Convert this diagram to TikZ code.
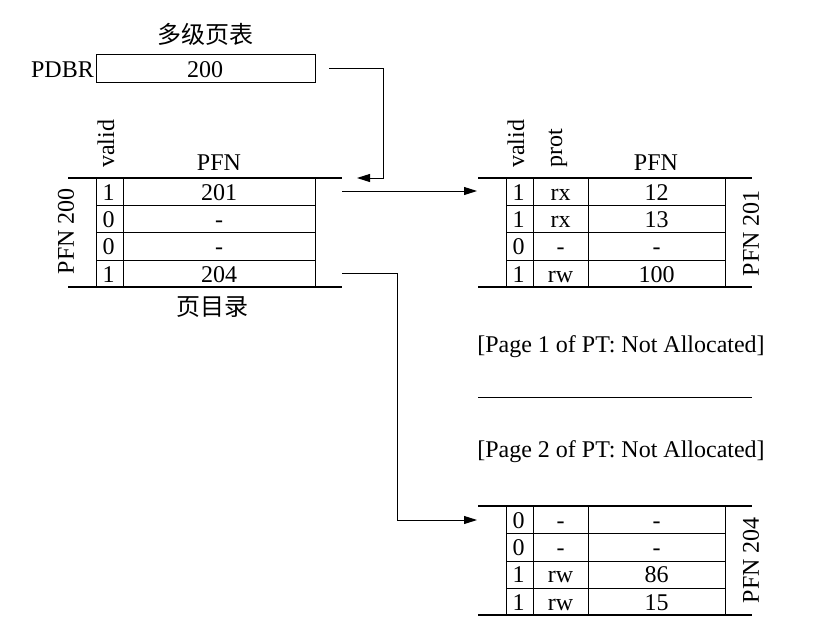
\documentclass[tikz,border=0pt]{standalone}
\usepackage{fontspec}
\setmainfont{Liberation Serif}
\newfontfamily\cjk{Noto Sans CJK SC}
\usetikzlibrary{arrows.meta}
\begin{document}
\begin{tikzpicture}[x=1pt,y=-1pt,
  lbl/.style={font=\fontsize{24}{24}\selectfont, inner sep=0pt},
  cjklbl/.style={font=\fontsize{24}{24}\selectfont\cjk, inner sep=0pt},
  cell/.style={lbl, anchor=base},
  thickrule/.style={line width=1.7pt},
  thinrule/.style={line width=0.9pt},
  conn/.style={line width=0.9pt},
  arr/.style={line width=0.9pt,-{Triangle[length=13pt,width=8pt]}}]
\useasboundingbox (0,0) rectangle (837,629);

% ---------- title and PDBR ----------
\node[cjklbl] (title) at (205,34) {多级页表};
\node[draw, thinrule, minimum width=219pt, minimum height=28pt, inner sep=0pt] (pdbr) at (205.5,68) {};
\node[lbl, anchor=base] (pdbrval) at (205,77) {200};
\node[lbl, anchor=base east] (pdbrlbl) at (94,77) {PDBR};

% ---------- page directory (PFN 200) ----------
\draw[thickrule] (68,178) -- (342,178);
\draw[thickrule] (68,287) -- (342,287);
\foreach \x in {96,123,315} \draw[thinrule] (\x,178) -- (\x,287);
\foreach \y in {205,232.5,260} \draw[thinrule] (96,\y) -- (315,\y);
\node[lbl, rotate=90, anchor=west] (dvalid) at (106,168) {valid};
\node[lbl, anchor=base] (dpfn) at (219,170) {PFN};
\node[lbl, rotate=90] (dname) at (66,231) {PFN 200};
\node[cjklbl] (dtitle) at (212,307) {页目录};
\foreach \v/\p [count=\i] in {1/201,0/-,0/-,1/204} {
  \pgfmathsetmacro{\yb}{178+27.25*\i-5}
  \node[cell] (dv\i) at (108.5,\yb) {\v};
  \node[cell] (dp\i) at (219,\yb) {\p};
}

% ---------- page of PT (PFN 201) ----------
\draw[thickrule] (478,178) -- (752,178);
\draw[thickrule] (478,287) -- (752,287);
\foreach \x in {506,533,588,725} \draw[thinrule] (\x,178) -- (\x,287);
\foreach \y in {205,232.5,260} \draw[thinrule] (506,\y) -- (725,\y);
\node[lbl, rotate=90, anchor=west] (avalid) at (516,168) {valid};
\node[lbl, rotate=90, anchor=west] (aprot) at (558,168) {prot};
\node[lbl, anchor=base] (apfn) at (656,170) {PFN};
\node[lbl, rotate=90] (aname) at (751,233) {PFN 201};
\foreach \v/\r/\p [count=\i] in {1/rx/12,1/rx/13,0/-/-,1/rw/100} {
  \pgfmathsetmacro{\yb}{178+27.25*\i-5}
  \node[cell] (av\i) at (518.5,\yb) {\v};
  \node[cell] (ar\i) at (560.5,\yb) {\r};
  \node[cell] (ap\i) at (656.5,\yb) {\p};
}

% ---------- not allocated ----------
\node[lbl, anchor=base] (na1) at (621,352) {[Page 1 of PT: Not Allocated]};
\draw[thinrule] (478,397) -- (752,397);
\node[lbl, anchor=base] (na2) at (621,457) {[Page 2 of PT: Not Allocated]};

% ---------- page of PT (PFN 204) ----------
\draw[thickrule] (478,506) -- (752,506);
\draw[thickrule] (478,615) -- (752,615);
\foreach \x in {506,533,588,725} \draw[thinrule] (\x,506) -- (\x,615);
\foreach \y in {533,561,588} \draw[thinrule] (506,\y) -- (725,\y);
\node[lbl, rotate=90] (bname) at (751,560) {PFN 204};
\foreach \v/\r/\p [count=\i] in {0/-/-,0/-/-,1/rw/86,1/rw/15} {
  \pgfmathsetmacro{\yb}{506+27.25*\i-5}
  \node[cell] (bv\i) at (518.5,\yb) {\v};
  \node[cell] (br\i) at (560.5,\yb) {\r};
  \node[cell] (bp\i) at (656.5,\yb) {\p};
}

% ---------- connectors ----------
\coordinate (c1s) at (329,68);
\coordinate (c1k) at (383,178);
\coordinate (c1e) at (357,178);
\draw[arr] (c1s) -| (c1k) -- (c1e);

\coordinate (c2s) at (342,191);
\coordinate (c2e) at (477,191);
\draw[arr] (c2s) -- (c2e);

\coordinate (c3s) at (342,273);
\coordinate (c3k) at (397,520);
\coordinate (c3e) at (477,520);
\draw[arr] (c3s) -| (c3k) -- (c3e);
\end{tikzpicture}
\end{document}
